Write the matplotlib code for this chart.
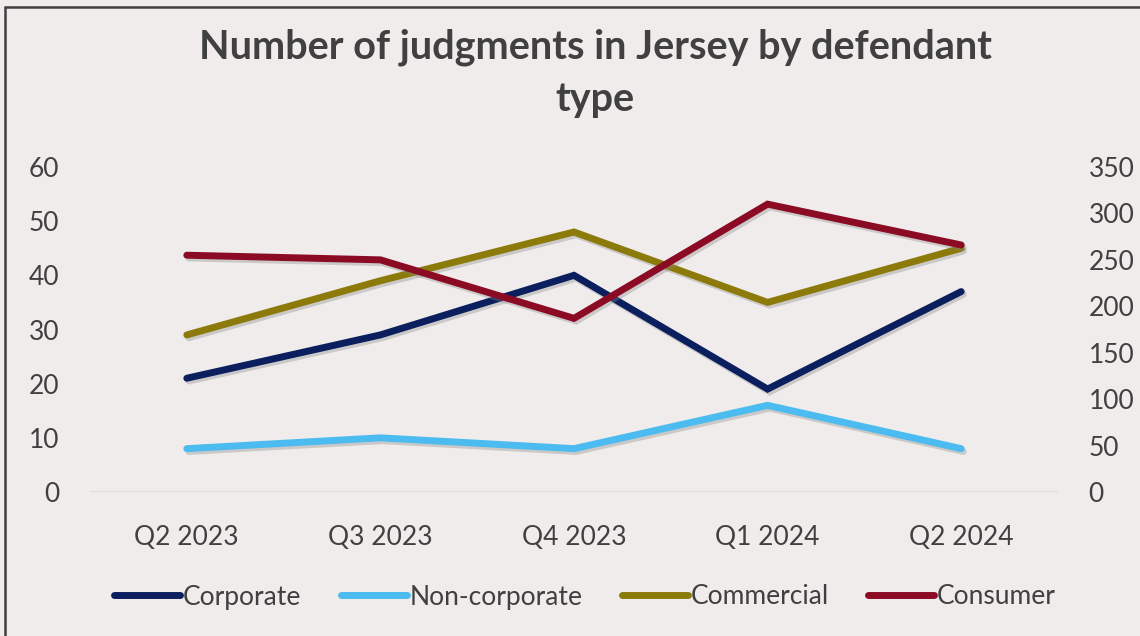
import matplotlib.pyplot as plt
import matplotlib.patheffects as pe
from matplotlib.patches import Rectangle

quarters = ['Q2 2023', 'Q3 2023', 'Q4 2023', 'Q1 2024', 'Q2 2024']
corporate = [21, 29, 40, 19, 37]
non_corporate = [8, 10, 8, 16, 8]
commercial = [29, 39, 48, 35, 45]
consumer = [255, 250, 187, 310, 266]   # right axis

bg = '#EFECEB'
txt = '#404040'
plt.rcParams['font.family'] = ['Lato', 'DejaVu Sans']

fig = plt.figure(figsize=(11.4, 6.36), dpi=100, facecolor=bg)
ax = fig.add_axes([90/1140, 1-492/636, (1058-90)/1140, (492-167)/636])
ax.set_facecolor(bg)
ax2 = ax.twinx()

x = range(len(quarters))
lw = 5
l1, = ax.plot(x, corporate, color='#0B1F5E', lw=lw, solid_capstyle='round', solid_joinstyle='miter', label='Corporate')
l2, = ax.plot(x, non_corporate, color='#4BBBF0', lw=lw, solid_capstyle='round', solid_joinstyle='miter', label='Non-corporate')
l3, = ax.plot(x, commercial, color='#8C7A0B', lw=lw, solid_capstyle='round', solid_joinstyle='miter', label='Commercial')
l4, = ax2.plot(x, consumer, color='#8C0B24', lw=lw, solid_capstyle='round', solid_joinstyle='miter', label='Consumer')
for l in (l1, l2, l3, l4):
    l.set_path_effects([pe.SimpleLineShadow(offset=(1.5, -2), shadow_color='#888888', alpha=0.35), pe.Normal()])

ax.set_xlim(-0.5, 4.5)
ax.set_ylim(0, 60)
ax2.set_ylim(0, 350)
ax.set_yticks(range(0, 61, 10))
ax2.set_yticks(range(0, 351, 50))
ax.set_xticks(list(x))
ax.set_xticklabels(quarters)

for a in (ax, ax2):
    for s in a.spines.values():
        s.set_visible(False)
    a.tick_params(length=0, labelsize=19, labelcolor=txt)
ax.tick_params(axis='y', pad=22)
ax2.tick_params(axis='y', pad=22)
ax.tick_params(axis='x', pad=24)
ax.axhline(0, color='#D9D9D9', lw=1.2, zorder=0)

fig.text(0.522, 1-47/636, 'Number of judgments in Jersey by defendant', ha='center', va='center',
         fontsize=28.5, fontweight='bold', color=txt)
fig.text(0.522, 1-100/636, 'type', ha='center', va='center', fontsize=28.5, fontweight='bold', color=txt)

leg = fig.legend(handles=[l1, l2, l3, l4], loc='center', bbox_to_anchor=(0.513, 1-597/636), ncol=4,
                 frameon=False, fontsize=19, handlelength=2.5, handletextpad=0.1, columnspacing=1.5)
for t in leg.get_texts():
    t.set_color(txt)
for h in leg.get_lines():
    h.set_path_effects([])

fig.patches.append(Rectangle((5/1140, -0.1), 1.2, 1-7/636+0.1, transform=fig.transFigure,
                             fill=False, edgecolor='#404040', lw=1.8))

fig.savefig('out.png', dpi=100, facecolor=bg)
